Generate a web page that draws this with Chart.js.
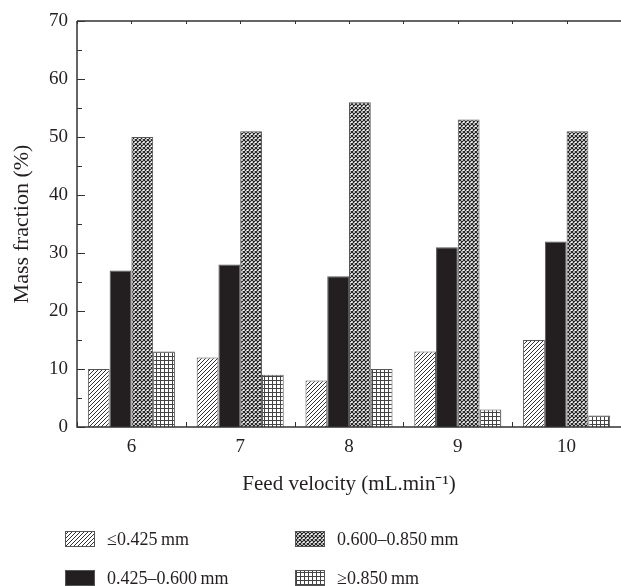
<!DOCTYPE html>
<html>
<head>
<meta charset="utf-8">
<script src="https://cdn.jsdelivr.net/npm/chart.js@4"></script>
<style>
  html, body { margin: 0; padding: 0; background: #fff; }
  #wrap { width: 621px; height: 586px; }
</style>
</head>
<body>
<div id="wrap"><canvas id="massChart" width="621" height="586"></canvas></div>
<script>
// Chart data
const feedVelocities = ['6', '7', '8', '9', '10'];
const fineVals = [10, 12, 8, 13, 15];        // <=0.425 mm
const midVals = [27, 28, 26, 31, 32];        // 0.425-0.600 mm
const coarseVals = [50, 51, 56, 53, 51];     // 0.600-0.850 mm
const largeVals = [13, 9, 10, 3, 2];         // >=0.850 mm
const seriesNames = ['\u22640.425\u2009mm', '0.425\u20130.600\u2009mm', '0.600\u20130.850\u2009mm', '\u22650.850\u2009mm'];
const yTicks = [0, 10, 20, 30, 40, 50, 60, 70];

const ink = '#231f20';
const serif = '"Liberation Serif", "Times New Roman", serif';

// Fill patterns
function makePattern(kind) {
    const c = document.createElement('canvas');
    const s = 4;
    c.width = s; c.height = s;
    const g = c.getContext('2d');
    g.fillStyle = '#fff';
    g.fillRect(0, 0, s, s);
    g.strokeStyle = '#333';
    g.lineWidth = 1;
    if (kind === 'hatch') {
        g.beginPath();
        g.moveTo(-1, s + 1); g.lineTo(s + 1, -1);
        g.moveTo(-1, 1); g.lineTo(1, -1);
        g.moveTo(s - 1, s + 1); g.lineTo(s + 1, s - 1);
        g.stroke();
    } else if (kind === 'cross') {
        g.strokeStyle = '#222';
        g.lineWidth = 1.2;
        g.beginPath();
        g.moveTo(0, s); g.lineTo(s, 0);
        g.moveTo(0, 0); g.lineTo(s, s);
        g.stroke();
    } else if (kind === 'grid') {
        g.fillStyle = '#444';
        g.fillRect(0, 0, s, 1);
        g.fillRect(0, 0, 1, s);
    }
    return g.createPattern(c, 'repeat');
}

const fills = [makePattern('hatch'), ink, makePattern('cross'), makePattern('grid')];

// Frame, inward ticks and the two-column legend
const framePlugin = {
    id: 'frame',
    afterDraw(chart) {
        const { ctx, chartArea: a, scales: { x, y } } = chart;
        ctx.save();
        ctx.strokeStyle = '#333';
        ctx.lineWidth = 1.5;
        ctx.beginPath();
        ctx.moveTo(a.left, a.top); ctx.lineTo(a.left, a.bottom); ctx.lineTo(a.right, a.bottom);
        ctx.moveTo(a.left, a.top); ctx.lineTo(a.right, a.top);
        ctx.stroke();

        ctx.lineWidth = 1;
        ctx.beginPath();
        for (let v = 0; v <= 70; v += 5) {
            const py = Math.round(y.getPixelForValue(v)) + 0.5;
            const len = v % 10 === 0 ? 8 : 5;
            ctx.moveTo(a.left, py); ctx.lineTo(a.left + len, py);
        }
        const step = (a.right - a.left) / feedVelocities.length;
        for (let i = 0; i <= feedVelocities.length; i++) {
            const px = Math.round(a.left + i * step) + 0.5;
            ctx.moveTo(px, a.bottom); ctx.lineTo(px, a.bottom - 5);
            ctx.moveTo(px, a.top); ctx.lineTo(px, a.top + 3);
        }
        feedVelocities.forEach((_, i) => {
            const px = Math.round(x.getPixelForValue(i)) + 0.5;
            ctx.moveTo(px, a.top); ctx.lineTo(px, a.top + 3);
        });
        ctx.stroke();

        // legend
        const boxes = [[65, 531], [65, 570], [295, 531], [295, 570]];
        ctx.font = '18px ' + serif;
        ctx.textBaseline = 'middle';
        ctx.fillStyle = ink;
        chart.data.datasets.forEach((ds, i) => {
            const [bx, by] = boxes[i];
            ctx.fillStyle = ds.backgroundColor;
            ctx.fillRect(bx, by, 30, 16);
            ctx.strokeStyle = '#555';
            ctx.strokeRect(bx + 0.5, by + 0.5, 29, 15);
            ctx.fillStyle = ink;
            ctx.fillText(ds.label, bx + 42, by + 9);
        });
        ctx.restore();
    }
};

const config = {
    type: 'bar',
    data: {
        labels: feedVelocities,
        datasets: [fineVals, midVals, coarseVals, largeVals].map((vals, i) => ({
            label: seriesNames[i],
            data: vals,
            backgroundColor: fills[i],
            borderColor: '#555',
            borderWidth: 1,
            categoryPercentage: 0.8,
            barPercentage: 1.0
        }))
    },
    options: {
        responsive: false,
        animation: false,
        events: [],
        layout: { padding: { top: 21, right: 0, left: 0, bottom: 0 } },
        plugins: {
            legend: { display: false },
            tooltip: { enabled: false }
        },
        scales: {
            x: {
                grid: { display: false, drawTicks: false },
                border: { display: false },
                ticks: { color: ink, padding: 9, font: { family: serif, size: 19 } },
                title: {
                    display: true,
                    text: 'Feed velocity (mL.min\u207B\u00B9)',
                    color: ink,
                    font: { family: serif, size: 21 },
                    padding: { top: 0, bottom: 89 }
                },
                afterFit(s) { s.height = 159; }
            },
            y: {
                min: 0,
                max: 70,
                grid: { display: false, drawTicks: false },
                border: { display: false },
                afterBuildTicks(s) { s.ticks = yTicks.map(v => ({ value: v })); },
                ticks: { color: ink, padding: 9, font: { family: serif, size: 19 } },
                title: {
                    display: true,
                    text: 'Mass fraction (%)',
                    color: ink,
                    font: { family: serif, size: 22 },
                    padding: { top: 9, bottom: 0 }
                },
                afterFit(s) { s.width = 77; }
            }
        }
    },
    plugins: [framePlugin]
};

new Chart(document.getElementById('massChart').getContext('2d'), config);
</script>
</body>
</html>
